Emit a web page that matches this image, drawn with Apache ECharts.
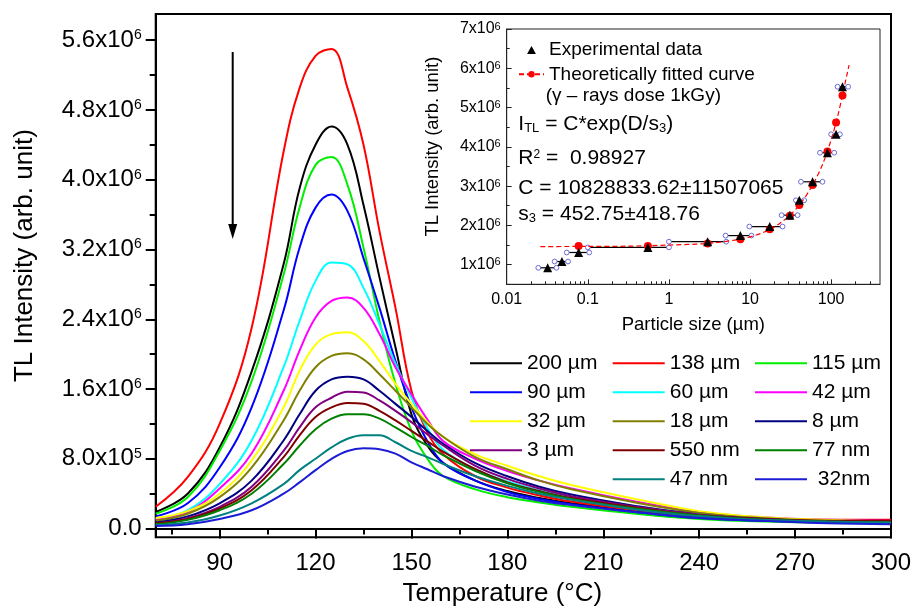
<!DOCTYPE html>
<html><head><meta charset="utf-8">
<script src="https://cdn.jsdelivr.net/npm/echarts@6/dist/echarts.min.js"></script>
<style>html,body{margin:0;padding:0;background:#fff}#c{width:917px;height:614px}</style>
</head><body><div id="c"></div>
<script>
// ---------------- DATA (main TL glow curves, intensity in units of 10^6) ----------------
const UNIT = 1e6;
const temps = [70,80,90,100,110,115,120,125,130,135,140,145,150,155,160,170,180,190,200,220,240,260,280,300];
const c200um = [0.19,0.40,0.93,1.80,3.03,3.90,4.40,4.61,4.40,3.71,2.88,2.08,1.31,0.95,0.75,0.55,0.43,0.35,0.29,0.20,0.13,0.10,0.09,0.08];
const c138um = [0.25,0.59,1.20,2.30,4.32,5.05,5.42,5.50,5.05,4.40,3.41,2.53,1.58,1.10,0.85,0.60,0.47,0.38,0.31,0.21,0.14,0.11,0.10,0.10];
const c115um = [0.17,0.36,0.89,1.69,2.91,3.68,4.17,4.26,3.94,3.22,2.38,1.66,1.12,0.80,0.60,0.45,0.36,0.30,0.25,0.17,0.11,0.08,0.07,0.07];
const c90um  = [0.14,0.29,0.70,1.39,2.50,3.22,3.68,3.83,3.64,3.10,2.53,1.92,1.39,1.00,0.75,0.55,0.42,0.34,0.28,0.19,0.12,0.09,0.07,0.06];
const c60um  = [0.11,0.21,0.51,1.01,1.85,2.38,2.84,3.05,3.03,2.76,2.34,1.89,1.50,1.15,0.90,0.68,0.54,0.44,0.36,0.25,0.16,0.11,0.09,0.07];
const c42um  = [0.10,0.19,0.46,0.86,1.58,2.04,2.42,2.61,2.65,2.53,2.23,1.85,1.54,1.25,1.00,0.80,0.66,0.55,0.46,0.31,0.19,0.13,0.10,0.09];
const c32um  = [0.12,0.20,0.40,0.78,1.39,1.81,2.11,2.23,2.25,2.15,1.92,1.66,1.43,1.22,1.05,0.85,0.72,0.60,0.50,0.34,0.20,0.13,0.10,0.08];
const c18um  = [0.09,0.17,0.36,0.70,1.24,1.58,1.85,1.98,2.01,1.94,1.77,1.58,1.39,1.20,1.05,0.82,0.68,0.55,0.45,0.30,0.18,0.12,0.09,0.08];
const c8um   = [0.07,0.14,0.29,0.55,1.01,1.31,1.58,1.71,1.74,1.71,1.58,1.43,1.28,1.12,0.97,0.75,0.60,0.48,0.39,0.26,0.16,0.11,0.08,0.06];
const c3um   = [0.06,0.12,0.25,0.48,0.89,1.16,1.39,1.50,1.57,1.56,1.47,1.35,1.22,1.08,0.95,0.72,0.57,0.46,0.37,0.25,0.16,0.11,0.08,0.06];
const c550nm = [0.06,0.11,0.23,0.44,0.82,1.07,1.28,1.39,1.44,1.43,1.35,1.24,1.12,1.00,0.88,0.68,0.53,0.43,0.35,0.24,0.15,0.11,0.09,0.09];
const c77nm  = [0.05,0.10,0.21,0.40,0.74,0.95,1.14,1.26,1.31,1.31,1.26,1.16,1.05,0.95,0.84,0.66,0.52,0.42,0.34,0.23,0.15,0.10,0.08,0.07];
const c47nm  = [0.04,0.07,0.15,0.29,0.51,0.67,0.80,0.93,1.03,1.07,1.07,0.99,0.89,0.82,0.74,0.60,0.49,0.40,0.33,0.22,0.14,0.10,0.08,0.07];
const c32nm  = [0.03,0.05,0.11,0.21,0.40,0.53,0.67,0.80,0.89,0.92,0.91,0.86,0.76,0.68,0.60,0.48,0.39,0.32,0.27,0.19,0.12,0.09,0.06,0.05];

const seriesNames = ['200 µm','138 µm','115 µm','90 µm','60 µm','42 µm','32 µm','18 µm','8 µm','3 µm','550 nm','77 nm','47 nm',' 32nm'];
const seriesValues = [c200um,c138um,c115um,c90um,c60um,c42um,c32um,c18um,c8um,c3um,c550nm,c77nm,c47nm,c32nm];
const seriesColors = ['#000000','#ff0000','#00ee00','#0000ff','#00ffff','#ff00ff','#ffff00','#808000','#000080','#800080','#800000','#008000','#008080','#1c1cd6'];
const legendCol1 = ['200 µm','90 µm','32 µm','3 µm'];
const legendCol2 = ['138 µm','60 µm','18 µm','550 nm','47 nm'];
const legendCol3 = ['115 µm','42 µm','8 µm','77 nm',' 32nm'];

// main axis ticks
const xMajor = [90,120,150,180,210,240,270,300];
const xMinor = [75,105,135,165,195,225,255,285];
const yMajor = [0,8e5,1.6e6,2.4e6,3.2e6,4.0e6,4.8e6,5.6e6];
const yMajorText = [['0.0',''],['8.0x10','5'],['1.6x10','6'],['2.4x10','6'],['3.2x10','6'],['4.0x10','6'],['4.8x10','6'],['5.6x10','6']];
const yMinor = [4e5,1.2e6,2.0e6,2.8e6,3.6e6,4.4e6,5.2e6];

// ---------------- DATA (inset) ----------------
const sizeUm   = [0.032,0.048,0.077,0.55,3.0,7.6,17.5,31,40.5,59,90,115,138];
const exptI    = [0.92,1.08,1.31,1.44,1.585,1.74,1.97,2.26,2.64,3.11,3.85,4.32,5.53];
const errLo    = [0.0245,0.039,0.055,0.1,1.0,5.0,9.8,24.5,36.8,42.4,72.8,100,120];
const errHi    = [0.041,0.057,0.104,1.0,5.08,10.4,25.2,38.6,46.5,78.2,109,128,162];
const fitSize  = [0.077,0.55,3.0,7.6,17.5,31,40.5,59,90,115,138];
const fitI     = [1.475,1.475,1.54,1.65,1.90,2.245,2.52,3.03,3.88,4.62,5.31];
const curveSize = [0.026,0.1,0.3,1,3,8,15,25,40,60,80,100,120,140,166];
const curveI    = [1.46,1.465,1.47,1.50,1.54,1.66,1.83,2.10,2.50,3.05,3.60,4.18,4.77,5.38,6.08];
const inXMajor = [0.01,0.1,1,10,100];
const inXMajorText = ['0.01','0.1','1','10','100'];
const inXMinor = [0.02,0.03,0.04,0.05,0.06,0.07,0.08,0.09,0.2,0.3,0.4,0.5,0.6,0.7,0.8,0.9,2,3,4,5,6,7,8,9,20,30,40,50,60,70,80,90,200,300];
const inYMajor = [1e6,2e6,3e6,4e6,5e6,6e6,7e6];
const inYMajorText = [['1x10','6'],['2x10','6'],['3x10','6'],['4x10','6'],['5x10','6'],['6x10','6'],['7x10','6']];
const inYMinor = [1.5e6,2.5e6,3.5e6,4.5e6,5.5e6,6.5e6];

// ---------------- BUILD ----------------
const FONT = '"Liberation Sans", Arial, sans-serif';
const chart = echarts.init(document.getElementById('c'), null, {renderer:'canvas'});

function findText(list, texts, v) {
  for (let i = 0; i < list.length; i++) if (Math.abs(list[i] - v) <= Math.abs(list[i]) * 1e-6 + 1e-12) return texts[i];
  return null;
}

const mainSeries = seriesNames.map((n, i) => ({
  name: n, type: 'line', xAxisIndex: 0, yAxisIndex: 0, smooth: 0.4, symbol: 'none',
  lineStyle: {color: seriesColors[i], width: 2}, itemStyle: {color: seriesColors[i]},
  data: temps.map((t, k) => [t, seriesValues[i][k] * UNIT]), z: 3
}));

const legendBase = {
  orient: 'vertical', itemWidth: 52, itemHeight: 2, itemGap: 8, selectedMode: false, icon: 'rect',
  textStyle: {fontSize: 21, lineHeight: 21, color: '#000', fontFamily: FONT}
};

const option = {
  animation: false,
  backgroundColor: '#fff',
  textStyle: {fontFamily: FONT},
  grid: [
    {left: 155.7, top: 14, right: 26, bottom: 76.7, show: true, borderColor: '#000', borderWidth: 2, backgroundColor: 'transparent'},
    {left: 155.7, top: 14, right: 26, bottom: 76.7},
    {left: 506.7, top: 29, right: 37, bottom: 329.7, show: true, borderColor: '#222', borderWidth: 1, backgroundColor: 'transparent'},
    {left: 506.7, top: 29, right: 37, bottom: 329.7}
  ],
  xAxis: [
    {gridIndex: 0, type: 'value', min: 70, max: 300,
     axisLine: {lineStyle: {color: '#000', width: 2}},
     axisTick: {customValues: xMajor, length: 10, lineStyle: {color: '#000', width: 2}},
     axisLabel: {customValues: xMajor, fontSize: 24, color: '#000', margin: 14, fontFamily: FONT},
     splitLine: {show: false},
     name: 'Temperature (°C)', nameLocation: 'middle', nameGap: 44,
     nameTextStyle: {fontSize: 26, color: '#000', fontFamily: FONT, padding: [0, 42, 0, 0]}},
    {gridIndex: 1, type: 'value', min: 70, max: 300,
     axisLine: {show: false},
     axisTick: {customValues: xMinor, length: 6, lineStyle: {color: '#000', width: 2}},
     axisLabel: {show: false}, splitLine: {show: false}},
    {gridIndex: 2, type: 'log', logBase: 10, min: 0.01, max: 400,
     axisLine: {lineStyle: {color: '#222', width: 1}},
     axisTick: {customValues: inXMajor, inside: true, length: 5, lineStyle: {color: '#222', width: 1}},
     axisLabel: {customValues: inXMajor, fontSize: 16, color: '#000', margin: 7, fontFamily: FONT,
       formatter: v => findText(inXMajor, inXMajorText, v) || ''},
     splitLine: {show: false},
     name: 'Particle size (µm)', nameLocation: 'middle', nameGap: 31,
     nameTextStyle: {fontSize: 18.5, color: '#000', fontFamily: FONT}},
    {gridIndex: 3, type: 'log', logBase: 10, min: 0.01, max: 400,
     axisLine: {show: false},
     axisTick: {customValues: inXMinor, inside: true, length: 3, lineStyle: {color: '#222', width: 1}},
     axisLabel: {show: false}, splitLine: {show: false}}
  ],
  yAxis: [
    {gridIndex: 0, type: 'value', min: -1e5, max: 5.9e6,
     axisLine: {lineStyle: {color: '#000', width: 2}},
     axisTick: {customValues: yMajor, length: 10, lineStyle: {color: '#000', width: 2}},
     axisLabel: {customValues: yMajor, margin: 14, color: '#000', fontFamily: FONT,
       formatter: v => { const t = findText(yMajor, yMajorText, v); if (!t) return ''; return t[1] ? '{b|' + t[0] + '}{s|' + t[1] + '}' : '{z|' + t[0] + '}'; },
       rich: {
         b: {fontSize: 24, lineHeight: 24, padding: [5, 0, 0, 0], verticalAlign: 'bottom', color: '#000', fontFamily: FONT},
         s: {fontSize: 14, lineHeight: 14, verticalAlign: 'top', color: '#000', fontFamily: FONT},
         z: {fontSize: 24, lineHeight: 24, color: '#000', fontFamily: FONT}
       }},
     splitLine: {show: false},
     name: 'TL Intensity (arb. unit)', nameLocation: 'middle', nameGap: 118,
     nameTextStyle: {fontSize: 26, color: '#000', fontFamily: FONT, padding: [0, 0, 0, 40]}},
    {gridIndex: 1, type: 'value', min: -1e5, max: 5.9e6,
     axisLine: {show: false},
     axisTick: {customValues: yMinor, length: 6, lineStyle: {color: '#000', width: 2}},
     axisLabel: {show: false}, splitLine: {show: false}},
    {gridIndex: 2, type: 'value', min: 5e5, max: 7e6,
     axisLine: {lineStyle: {color: '#222', width: 1}},
     axisTick: {customValues: inYMajor, inside: true, length: 5, lineStyle: {color: '#222', width: 1}},
     axisLabel: {customValues: inYMajor, margin: 6, color: '#000', fontFamily: FONT,
       formatter: v => { const t = findText(inYMajor, inYMajorText, v); return t ? '{b|' + t[0] + '}{s|' + t[1] + '}' : ''; },
       rich: {
         b: {fontSize: 16, lineHeight: 16, padding: [4, 0, 0, 0], verticalAlign: 'bottom', color: '#000', fontFamily: FONT},
         s: {fontSize: 11, lineHeight: 11, verticalAlign: 'top', color: '#000', fontFamily: FONT}
       }},
     splitLine: {show: false},
     name: 'TL Intensity (arb. unit)', nameLocation: 'middle', nameGap: 64,
     nameTextStyle: {fontSize: 18.5, color: '#000', fontFamily: FONT, padding: [0, 0, 0, 20]}},
    {gridIndex: 3, type: 'value', min: 5e5, max: 7e6,
     axisLine: {show: false},
     axisTick: {customValues: inYMinor, inside: true, length: 3, lineStyle: {color: '#222', width: 1}},
     axisLabel: {show: false}, splitLine: {show: false}}
  ],
  legend: [
    Object.assign({}, legendBase, {data: legendCol1, left: 465, top: 347.8}),
    Object.assign({}, legendBase, {data: legendCol2, left: 607.7, top: 347.8}),
    Object.assign({}, legendBase, {data: legendCol3, left: 750, top: 347.8}),
    {data: [{name: 'Experimental data', icon: 'path://M5,0 L10,9 L0,9 Z'}, {name: 'Theoretically fitted curve'}],
     orient: 'vertical', left: 513, top: 35.5,
     itemWidth: 25, itemHeight: 8, itemGap: 5.3, selectedMode: false, symbolKeepAspect: true,
     textStyle: {fontSize: 19, lineHeight: 19, color: '#000', fontFamily: FONT}}
  ],
  series: mainSeries.concat([
    {name: 'error bars', type: 'custom', xAxisIndex: 2, yAxisIndex: 2, z: 4,
     data: sizeUm.map((s, i) => [errLo[i], errHi[i], exptI[i] * UNIT]),
     encode: {x: [0, 1], y: 2},
     renderItem: (params, api) => {
       const p1 = api.coord([api.value(0), api.value(2)]);
       const p2 = api.coord([api.value(1), api.value(2)]);
       return {type: 'group', children: [
         {type: 'line', shape: {x1: p1[0], y1: p1[1], x2: p2[0], y2: p2[1]}, style: {stroke: '#000', lineWidth: 1.2}},
         {type: 'circle', shape: {cx: p1[0], cy: p1[1], r: 2.4}, style: {fill: '#fff', stroke: '#6b6bd8', lineWidth: 1}},
         {type: 'circle', shape: {cx: p2[0], cy: p2[1], r: 2.4}, style: {fill: '#fff', stroke: '#6b6bd8', lineWidth: 1}}
       ]};
     }},
    {name: 'Theoretically fitted curve', type: 'line', xAxisIndex: 2, yAxisIndex: 2, z: 5,
     smooth: 0.3, symbol: 'circle', symbolSize: 7, showSymbol: false,
     itemStyle: {color: '#ff0000'}, lineStyle: {color: '#ff0000', width: 1.2, type: [5, 3]},
     data: curveSize.map((s, i) => [s, curveI[i] * UNIT])},
    {name: 'Fitted points', type: 'scatter', xAxisIndex: 2, yAxisIndex: 2, z: 6,
     symbol: 'circle', symbolSize: 8, itemStyle: {color: '#ff0000', opacity: 1},
     data: fitSize.map((s, i) => [s, fitI[i] * UNIT])},
    {name: 'Experimental data', type: 'scatter', xAxisIndex: 2, yAxisIndex: 2, z: 7,
     symbol: 'triangle', symbolSize: 9, symbolKeepAspect: true, itemStyle: {color: '#000', opacity: 1},
     data: sizeUm.map((s, i) => [s, exptI[i] * UNIT])}
  ]),
  graphic: [
    {type: 'line', shape: {x1: 232.7, y1: 52, x2: 232.7, y2: 230}, style: {stroke: '#000', lineWidth: 2}, z: 10},
    {type: 'polygon', shape: {points: [[228.2, 224], [237.2, 224], [232.7, 239]]}, style: {fill: '#000'}, z: 10},
    {type: 'text', x: 545.7, y: 86.3, z: 10,
     style: {text: '(γ – rays dose 1kGy)', font: '19px ' + FONT, fill: '#000', verticalAlign: 'top'}},
    {type: 'text', x: 518.3, y: 114.2, z: 10,
     style: {text: '{n|I}{u|TL}{n| = C*exp(D/s}{u|3}{n|)}', fill: '#000', verticalAlign: 'top',
       rich: {n: {fontSize: 21, lineHeight: 21, padding: [0, 0, 6, 0], verticalAlign: 'top', fontFamily: FONT, fill: '#000'},
              u: {fontSize: 13, lineHeight: 13, verticalAlign: 'bottom', fontFamily: FONT, fill: '#000'}}}},
    {type: 'text', x: 518.3, y: 148.2, z: 10,
     style: {text: '{n|R}{p|2}{n| =  0.98927}', fill: '#000', verticalAlign: 'top',
       rich: {n: {fontSize: 21, lineHeight: 21, padding: [3, 0, 0, 0], verticalAlign: 'bottom', fontFamily: FONT, fill: '#000'},
              p: {fontSize: 12, lineHeight: 12, verticalAlign: 'top', fontFamily: FONT, fill: '#000'}}}},
    {type: 'text', x: 518.3, y: 177.5, z: 10,
     style: {text: 'C = 10828833.62±11507065', font: '21px ' + FONT, fill: '#000', verticalAlign: 'top'}},
    {type: 'text', x: 518.3, y: 204.2, z: 10,
     style: {text: '{n|s}{u|3}{n| = 452.75±418.76}', fill: '#000', verticalAlign: 'top',
       rich: {n: {fontSize: 21, lineHeight: 21, padding: [0, 0, 6, 0], verticalAlign: 'top', fontFamily: FONT, fill: '#000'},
              u: {fontSize: 13, lineHeight: 13, verticalAlign: 'bottom', fontFamily: FONT, fill: '#000'}}}}
  ]
};
chart.setOption(option);
</script>
</body></html>
